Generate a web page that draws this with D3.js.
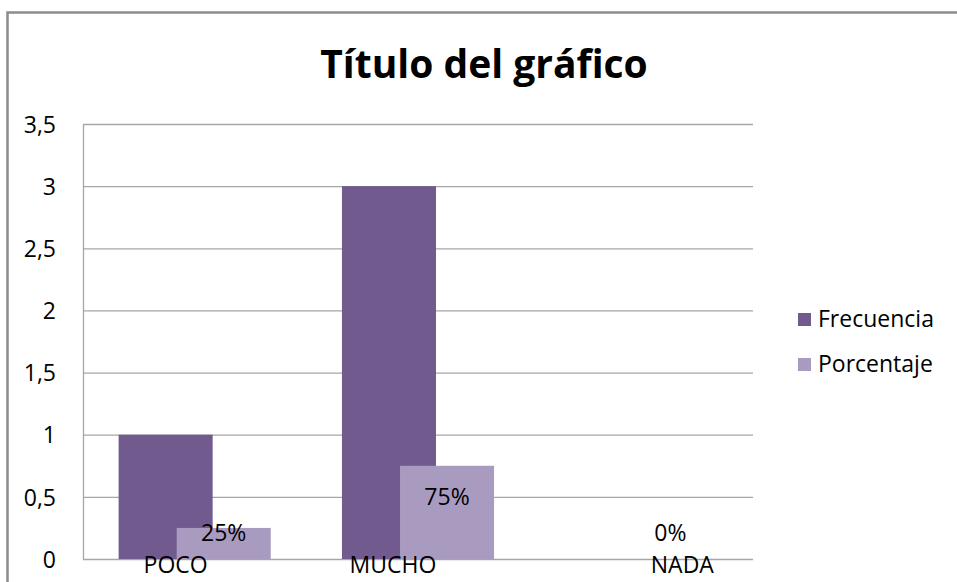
<!DOCTYPE html>
<html>
<head>
<meta charset="utf-8">
<script src="https://cdn.jsdelivr.net/npm/d3@7"></script>
<style>
  html, body { margin: 0; padding: 0; background: #fff; }
  svg text { font-family: "Open Sans", Lato, sans-serif; fill: #000; font-variant-ligatures: none; }
</style>
</head>
<body>
<div id="chart"></div>
<script>
// data
var categories = ["POCO", "MUCHO", "NADA"];
var frecuencia = [1, 3, 0];
var porcentaje = [0.25, 0.75, 0];
var pctLabels = ["25%", "75%", "0%"];
var seriesNames = ["Frecuencia", "Porcentaje"];
var yTicks = [0, 0.5, 1, 1.5, 2, 2.5, 3, 3.5];

var colors = ["#705a8e", "#a99bbf"];
var fontSize = 23;

var W = 957, H = 582;
var margin = { top: 124, left: 83, right: 957 - 753, bottom: 582 - 559 };
var width = W - margin.left - margin.right;
var height = H - margin.top - margin.bottom;

var svg = d3.select("#chart").append("svg")
    .attr("width", W)
    .attr("height", H);

// outer chart frame (runs off the right and bottom of the picture)
svg.append("rect")
    .attr("x", 7.5)
    .attr("y", 12.5)
    .attr("width", W + 20)
    .attr("height", H + 20)
    .attr("fill", "none")
    .attr("stroke", "#8c8c8c")
    .attr("stroke-width", 2.5);

svg.append("text")
    .attr("x", 484)
    .attr("y", 78)
    .attr("text-anchor", "middle")
    .attr("font-size", 39)
    .attr("font-weight", "bold")
    .text("Título del gráfico");

var g = svg.append("g")
    .attr("transform", "translate(" + margin.left + "," + margin.top + ")");

var x = d3.scaleBand()
    .domain(categories)
    .range([0, width]);

var y = d3.scaleLinear()
    .domain([0, 3.5])
    .range([height, 0]);

var fmt = d => String(d).replace(".", ",");

// gridlines
var grid = g.append("g")
    .call(d3.axisLeft(y).tickValues(yTicks).tickSize(-width).tickFormat(""));
grid.select(".domain").remove();
grid.selectAll("line")
    .attr("stroke", "#a6a6a6")
    .attr("stroke-width", 1.3);

// left edge of plot area
g.append("line")
    .attr("x1", 0.5).attr("x2", 0.5)
    .attr("y1", 0).attr("y2", height)
    .attr("stroke", "#a6a6a6")
    .attr("stroke-width", 1.3);

// y axis labels
var yAxis = g.append("g")
    .attr("transform", "translate(-24,0)")
    .call(d3.axisLeft(y).tickValues(yTicks).tickSize(0).tickFormat(fmt));
yAxis.select(".domain").remove();
yAxis.selectAll("text")
    .attr("font-size", fontSize)
    .attr("fill", "#000")
    .attr("dy", "0.36em")
    .style("font-family", "'Open Sans', sans-serif");

// the two bars in each group overlap (excel style)
var barW = x.bandwidth() * 0.421;
var step = x.bandwidth() * 0.26;
var groupStart = c => x(c) + x.bandwidth() / 2 - (barW + step) / 2;

var rows = categories.map((c, i) => ({ cat: c, f: frecuencia[i], p: porcentaje[i], lab: pctLabels[i] }));

g.selectAll(".bar-f")
    .data(rows)
    .enter().append("rect")
    .attr("class", "bar-f")
    .attr("x", d => groupStart(d.cat))
    .attr("y", d => y(d.f))
    .attr("width", barW)
    .attr("height", d => height - y(d.f))
    .attr("fill", colors[0]);

g.selectAll(".bar-p")
    .data(rows)
    .enter().append("rect")
    .attr("class", "bar-p")
    .attr("x", d => groupStart(d.cat) + step)
    .attr("y", d => y(d.p))
    .attr("width", barW)
    .attr("height", d => height - y(d.p))
    .attr("fill", colors[1]);

// percent labels sit a bit oddly in the original, nudge them
var pctDy = [13, 39, -18];
g.selectAll(".value")
    .data(rows)
    .enter().append("text")
    .attr("class", "value")
    .attr("x", d => groupStart(d.cat) + step + barW / 2)
    .attr("y", (d, i) => y(d.p) + pctDy[i])
    .attr("text-anchor", "middle")
    .attr("font-size", fontSize)
    .text(d => d.lab);

// category labels, also shifted like the original
var catDx = [-19, -25, 41];
g.selectAll(".cat")
    .data(categories)
    .enter().append("text")
    .attr("class", "cat")
    .attr("x", (d, i) => x(d) + x.bandwidth() / 2 + catDx[i])
    .attr("y", height + 14)
    .attr("text-anchor", "middle")
    .attr("font-size", fontSize)
    .text(d => d);

// legend
var legend = svg.append("g")
    .attr("transform", "translate(798,313)");

var item = legend.selectAll(".legend-item")
    .data(seriesNames)
    .enter().append("g")
    .attr("class", "legend-item")
    .attr("transform", (d, i) => "translate(0," + i * 45 + ")");

item.append("rect")
    .attr("width", 13)
    .attr("height", 13)
    .attr("fill", (d, i) => colors[i]);

item.append("text")
    .attr("x", 20)
    .attr("y", 14)
    .attr("font-size", fontSize)
    .text(d => d);
</script>
</body>
</html>
